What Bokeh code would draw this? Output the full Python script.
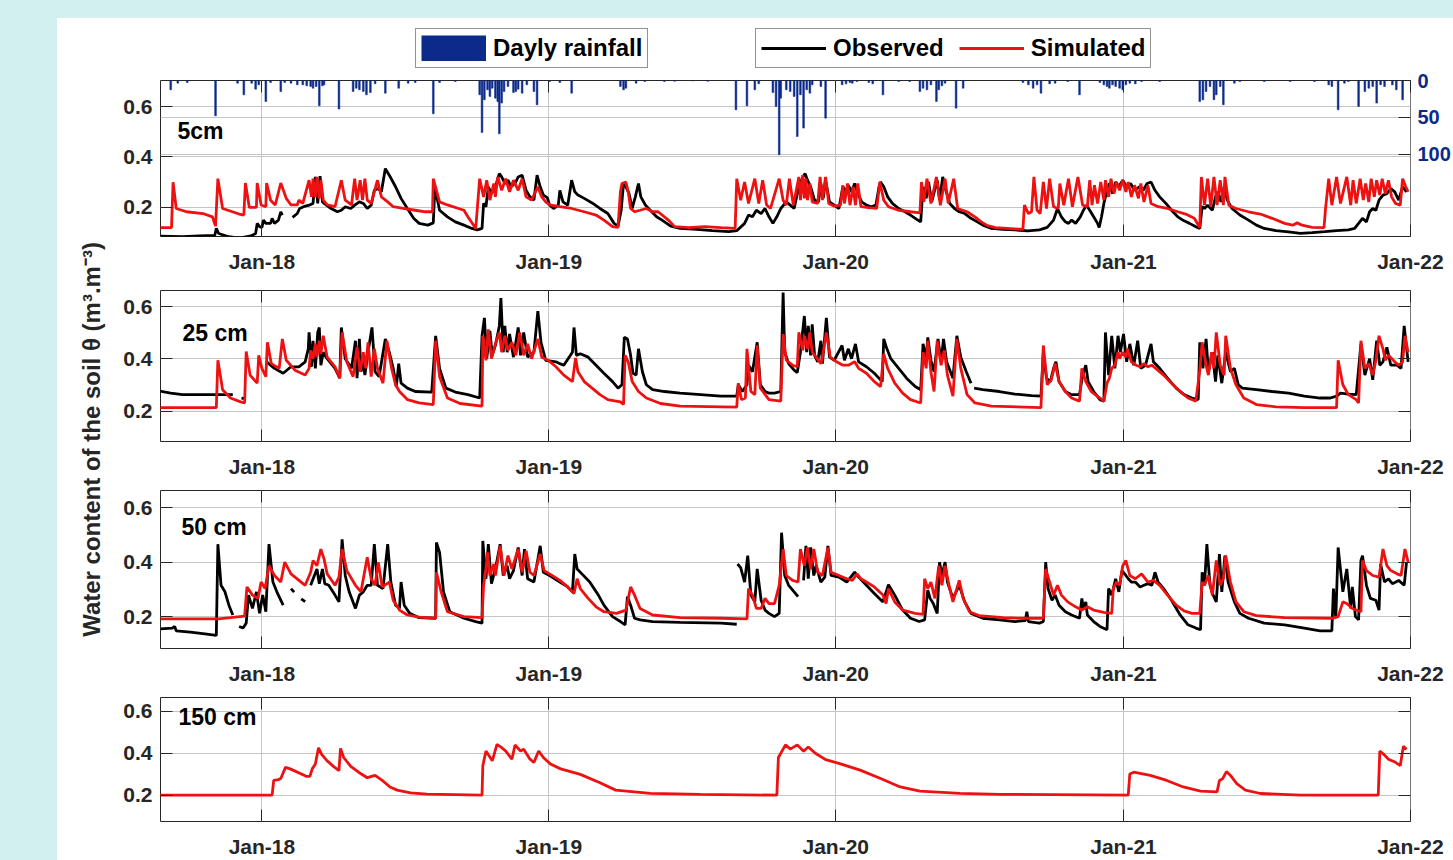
import math
import numpy as np
import pandas as pd
from bokeh.plotting import figure
from bokeh.models import (Range1d, LinearAxis, FixedTicker, DatetimeTickFormatter, Legend,
                          LegendItem, Label, Grid, Spacer, ColumnDataSource)
from bokeh.layouts import column, row
from bokeh.embed import file_html
from bokeh.resources import INLINE

nan = float("nan")

# ---------------- data (x = days since 2018-01-01) ----------------
base_date = "2018-01-01"
x_start, x_end = "2017-08-25", "2022-01-01 01:00"
year_ticks = ["2018-01-01", "2019-01-01", "2020-01-01", "2021-01-01", "2022-01-01"]
theta_ticks = [0.2, 0.4, 0.6]
rain_ticks = [0, 50, 100]
depth_labels = ["5cm", "25 cm", "50 cm", "150 cm"]
legend_labels = ["Dayly rainfall", "Observed", "Simulated"]
y_label = "Water content of the soil \u03b8 (m\u00b3.m\u207b\u00b3)"

rain_day = [-116, -107, -95, -59, -31, -23, -13, -8, -4, 5, 11, 24, 29, 37, 45, 52, 57, 62, 65, 69,
            73, 77, 79, 98, 116, 120, 124, 129, 133, 138, 144, 157, 174, 186, 195, 218, 226, 246, 277, 280,
            283, 287, 290, 293, 297, 300, 302, 305, 308, 313, 320, 323, 326, 331, 337, 346, 350, 366, 379, 394,
            456, 460, 463, 476, 487, 512, 525, 548, 567, 603, 617, 627, 632, 650, 654, 658, 660,
            667, 672, 677, 681, 685, 689, 693, 697, 700, 711, 717, 738, 743, 748, 751, 757, 772, 777, 790, 810,
            824, 837, 841, 846, 851, 858, 861, 865, 869, 883, 892, 968, 975, 981, 986, 991, 1002, 1009, 1025, 1040,
            1066, 1071, 1075, 1078, 1082, 1086, 1091, 1095, 1099, 1104, 1111, 1119, 1142, 1193, 1197, 1201, 1206,
            1211, 1214, 1219, 1223, 1237, 1244, 1275, 1308, 1339, 1357, 1361, 1369, 1377, 1382, 1395, 1403, 1408,
            1413, 1418, 1423, 1428, 1438, 1443, 1451]
rain_mm = [12.6, 3.6, 2.7, 47.8, 3.6, 19.4, 3.6, 11.7, 5.9, 28.4, 2.7, 14.9, 2.7, 3.6, 5.9, 5.9, 7.2, 8.1, 10.4, 8.1,
           34.2, 7.2, 5.9, 38.7, 14.9, 10.4, 12.6, 14.9, 19.4, 16.2, 4.5, 17.1, 10.4, 3.6, 2.7, 45.0, 2.7, 1.4, 19.4, 70.3,
           26.1, 12.6, 21.6, 10.4, 23.9, 28.4, 72.1, 30.6, 14.9, 8.1, 16.2, 14.9, 11.7, 17.1, 5.9, 14.9, 32.9, 1.4, 2.7, 17.1,
           8.1, 12.6, 10.4, 3.6, 1.4, 1.4, 1.0, 0.5, 1.0, 39.6, 34.2, 12.6, 4.5, 16.2, 35.1, 100.5, 23.9,
           12.6, 14.9, 21.6, 75.7, 19.4, 64.4, 12.6, 17.1, 5.9, 8.1, 50.9, 5.9, 4.5, 2.7, 3.6, 1.4, 2.7, 4.5, 19.4, 1.4,
           1.4, 14.9, 10.4, 12.6, 5.9, 28.4, 12.6, 7.2, 3.6, 37.4, 10.4, 2.7, 5.9, 10.4, 5.9, 17.1, 4.5, 3.6, 1.4, 19.4,
           2.7, 5.9, 8.1, 10.4, 5.9, 8.1, 10.4, 12.6, 5.9, 3.6, 4.5, 1.4, 1.4, 28.4, 26.1, 14.9, 8.1,
           26.1, 19.4, 8.1, 32.9, 3.6, 1.4, 1.4, 1.4, 1.4, 5.9, 8.1, 39.6, 3.6, 1.4, 35.1, 14.9, 10.4,
           8.1, 30.6, 5.9, 8.1, 5.9, 12.6, 26.1]

sim_5cm = [(-132, 0.12), (-115, 0.12), (-113, 0.30), (-109, 0.196), (-96, 0.183), (-75, 0.176), (-63, 0.163),
           (-59, 0.126), (-56, 0.314), (-50, 0.196), (-29, 0.174), (-23, 0.17), (-21, 0.297), (-16, 0.20), (-7, 0.20),
           (-6, 0.297), (-1, 0.21), (5, 0.203), (6, 0.297), (11, 0.229), (17, 0.21), (24, 0.297), (31, 0.236),
           (37, 0.21), (45, 0.21), (47, 0.229), (52, 0.216), (60, 0.308), (63, 0.242), (65, 0.314), (68, 0.242),
           (70, 0.321), (73, 0.236), (75, 0.308), (78, 0.229), (83, 0.21), (93, 0.203), (101, 0.308), (106, 0.229),
           (114, 0.21), (118, 0.314), (121, 0.229), (125, 0.308), (128, 0.229), (131, 0.314), (134, 0.229),
           (139, 0.216), (147, 0.308), (152, 0.242), (160, 0.222), (167, 0.203), (180, 0.196), (195, 0.189),
           (208, 0.183), (217, 0.183), (218, 0.314), (226, 0.222), (236, 0.21), (257, 0.189), (262, 0.163),
           (272, 0.117), (277, 0.314), (282, 0.242), (286, 0.308), (290, 0.229), (295, 0.295), (297, 0.242),
           (300, 0.321), (305, 0.268), (310, 0.314), (315, 0.262), (320, 0.308), (326, 0.268), (331, 0.314),
           (336, 0.242), (343, 0.229), (351, 0.282), (356, 0.242), (361, 0.222), (366, 0.21), (379, 0.203),
           (394, 0.196), (410, 0.183), (425, 0.17), (435, 0.15), (446, 0.124), (453, 0.121), (456, 0.262),
           (458, 0.295), (463, 0.301), (466, 0.262), (469, 0.196), (474, 0.183), (481, 0.189), (489, 0.196),
           (497, 0.183), (504, 0.183), (517, 0.15), (525, 0.124), (543, 0.12), (563, 0.124), (584, 0.12),
           (602, 0.117), (604, 0.314), (609, 0.229), (614, 0.301), (619, 0.216), (627, 0.314), (632, 0.216),
           (637, 0.308), (642, 0.21), (647, 0.196), (658, 0.314), (663, 0.229),
           (667, 0.209), (671, 0.314), (676, 0.209), (683, 0.321), (685, 0.229), (688, 0.328), (690, 0.236),
           (692, 0.314), (694, 0.229), (697, 0.295), (700, 0.222), (707, 0.216), (710, 0.321), (713, 0.229),
           (717, 0.321), (721, 0.216), (728, 0.205), (736, 0.209), (739, 0.288), (741, 0.216), (745, 0.295),
           (748, 0.209), (752, 0.282), (755, 0.209), (758, 0.295), (762, 0.203), (772, 0.199), (782, 0.196),
           (786, 0.301), (791, 0.229), (797, 0.203), (810, 0.189), (825, 0.183), (837, 0.179), (839, 0.301),
           (842, 0.222), (846, 0.314), (851, 0.216), (858, 0.321), (863, 0.209), (869, 0.314), (873, 0.216),
           (880, 0.314), (885, 0.196), (897, 0.183), (907, 0.163), (915, 0.143), (923, 0.128), (933, 0.12),
           (948, 0.117), (968, 0.113), (970, 0.209), (975, 0.176), (979, 0.183), (982, 0.321), (986, 0.189),
           (990, 0.176), (994, 0.301), (998, 0.196), (1002, 0.314), (1007, 0.203), (1013, 0.196), (1015, 0.295),
           (1020, 0.209), (1026, 0.314), (1031, 0.203), (1038, 0.321), (1044, 0.209), (1050, 0.203), (1053, 0.308),
           (1056, 0.209), (1059, 0.288), (1063, 0.216), (1067, 0.301), (1071, 0.229), (1073, 0.308), (1077, 0.242),
           (1080, 0.314), (1084, 0.255), (1087, 0.301), (1091, 0.268), (1095, 0.308), (1099, 0.262), (1102, 0.301),
           (1106, 0.242), (1110, 0.288), (1115, 0.236), (1118, 0.295), (1122, 0.222), (1127, 0.288), (1131, 0.216),
           (1140, 0.203), (1152, 0.196), (1165, 0.183), (1175, 0.174), (1186, 0.157), (1193, 0.121), (1195, 0.321),
           (1199, 0.209), (1203, 0.314), (1207, 0.203), (1211, 0.321), (1215, 0.209), (1219, 0.308), (1223, 0.209),
           (1225, 0.321), (1230, 0.209), (1239, 0.196), (1255, 0.183), (1270, 0.174), (1285, 0.157), (1301, 0.137),
           (1311, 0.13), (1317, 0.139), (1323, 0.13), (1336, 0.121), (1351, 0.12), (1353, 0.196), (1357, 0.314),
           (1361, 0.209), (1367, 0.321), (1372, 0.216), (1380, 0.321), (1385, 0.209), (1388, 0.308), (1392, 0.216),
           (1397, 0.314), (1401, 0.229), (1404, 0.295), (1408, 0.222), (1411, 0.314), (1415, 0.242), (1418, 0.308),
           (1422, 0.249), (1425, 0.314), (1429, 0.255), (1433, 0.308), (1437, 0.242), (1442, 0.216), (1448, 0.209),
           (1451, 0.314), (1455, 0.282), (1458, 0.262)]

obs_5cm = [(-132, 0.087), (-101, 0.084), (-80, 0.087), (-60, 0.089), (-58, 0.117), (-55, 0.097), (-42, 0.084),
           (-29, 0.079), (-14, 0.087), (-8, 0.097), (-6, 0.137), (-3, 0.124), (0, 0.121), (2, 0.15), (5, 0.137),
           (11, 0.137), (13, 0.157), (16, 0.137), (21, 0.15), (24, 0.183), (26, 0.17), (32, nan), (39, 0.161),
           (45, 0.176), (48, 0.196), (53, 0.203), (60, 0.209), (65, 0.216), (68, 0.321), (71, 0.216), (74, 0.324),
           (77, 0.222), (82, 0.209), (88, 0.196), (96, 0.183), (101, 0.189), (106, 0.203), (113, 0.196),
           (118, 0.209), (124, 0.222), (129, 0.216), (134, 0.196), (139, 0.209), (143, 0.268), (148, 0.275),
           (152, 0.262), (157, 0.354), (162, 0.328), (170, 0.282), (177, 0.236), (185, 0.196), (193, 0.157),
           (200, 0.137), (211, 0.13), (218, 0.139), (220, 0.28), (226, 0.189), (236, 0.163), (246, 0.143),
           (257, 0.13), (267, 0.117), (274, 0.111), (280, 0.117), (282, 0.216), (285, 0.203), (288, 0.282),
           (292, 0.255), (297, 0.282), (302, 0.334), (305, 0.321), (309, 0.295), (313, 0.308), (317, 0.282),
           (322, 0.295), (326, 0.321), (331, 0.328), (336, 0.268), (341, 0.242), (346, 0.229), (350, 0.328),
           (354, 0.282), (358, 0.249), (363, 0.239), (366, 0.209), (371, 0.196), (377, 0.209), (379, 0.268),
           (383, 0.222), (389, 0.209), (394, 0.308), (398, 0.262), (402, 0.249), (410, 0.236), (420, 0.218),
           (430, 0.196), (440, 0.176), (448, 0.137), (453, 0.126), (457, 0.189), (460, 0.295), (463, 0.282),
           (467, 0.255), (471, 0.196), (475, 0.242), (479, 0.295), (482, 0.242), (488, 0.209), (494, 0.189),
           (502, 0.163), (509, 0.15), (520, 0.126), (532, 0.117), (553, 0.113), (573, 0.108), (594, 0.104),
           (604, 0.108), (614, 0.137), (619, 0.17), (624, 0.163), (629, 0.189), (635, 0.176), (640, 0.196),
           (645, 0.163), (650, 0.137), (655, 0.163), (660, 0.196),
           (667, 0.222), (672, 0.209), (677, 0.196), (683, 0.282), (688, 0.321), (691, 0.334), (694, 0.308),
           (698, 0.282), (703, 0.229), (708, 0.222), (711, 0.295), (714, 0.236), (717, 0.308), (722, 0.222),
           (728, 0.209), (734, 0.196), (739, 0.282), (743, 0.262), (746, 0.288), (750, 0.262), (754, 0.295),
           (758, 0.255), (763, 0.222), (769, 0.209), (775, 0.203), (781, 0.209), (785, 0.282), (787, 0.301),
           (791, 0.282), (796, 0.242), (802, 0.216), (810, 0.196), (818, 0.183), (825, 0.17), (833, 0.153),
           (838, 0.143), (841, 0.282), (845, 0.236), (848, 0.301), (852, 0.222), (859, 0.308), (862, 0.229),
           (866, 0.321), (870, 0.268), (875, 0.216), (881, 0.196), (887, 0.183), (894, 0.176), (902, 0.157),
           (910, 0.143), (917, 0.13), (928, 0.117), (943, 0.113), (958, 0.111), (974, 0.107), (989, 0.111),
           (999, 0.121), (1007, 0.15), (1012, 0.196), (1017, 0.163), (1022, 0.143), (1026, 0.137), (1030, 0.15),
           (1035, 0.137), (1041, 0.163), (1045, 0.189), (1049, 0.209), (1053, 0.189), (1058, 0.163), (1063, 0.137),
           (1065, 0.121), (1068, 0.163), (1071, 0.216), (1075, 0.268), (1078, 0.295), (1082, 0.255), (1086, 0.301),
           (1090, 0.282), (1095, 0.308), (1100, 0.282), (1105, 0.295), (1110, 0.268), (1116, 0.282), (1121, 0.268),
           (1126, 0.295), (1131, 0.301), (1136, 0.268), (1142, 0.242), (1150, 0.216), (1157, 0.189), (1165, 0.163),
           (1173, 0.147), (1180, 0.137), (1188, 0.124), (1193, 0.117), (1196, 0.203), (1199, 0.196), (1203, 0.209),
           (1209, 0.189), (1213, 0.242), (1216, 0.262), (1220, 0.222), (1224, 0.282), (1228, 0.229), (1234, 0.196),
           (1244, 0.17), (1255, 0.15), (1265, 0.13), (1275, 0.117), (1290, 0.108), (1306, 0.103), (1321, 0.097),
           (1336, 0.1), (1352, 0.104), (1367, 0.108), (1382, 0.111), (1390, 0.117), (1395, 0.137), (1400, 0.157),
           (1405, 0.143), (1409, 0.183), (1413, 0.196), (1417, 0.189), (1421, 0.229), (1426, 0.249), (1431, 0.255),
           (1436, 0.275), (1441, 0.262), (1446, 0.229), (1451, 0.282), (1456, 0.262)]

sim_25cm = [(-132, 0.213), (-58, 0.213), (-56, 0.395), (-50, 0.282), (-40, 0.25), (-27, 0.235), (-22, 0.231),
            (-20, 0.429), (-15, 0.338), (-6, 0.307), (-4, 0.414), (0, 0.364), (5, 0.332), (7, 0.464), (12, 0.382),
            (22, 0.364), (26, 0.477), (31, 0.395), (42, 0.357), (55, 0.338), (60, 0.364), (62, 0.433), (65, 0.401),
            (68, 0.458), (70, 0.407), (73, 0.47), (75, 0.42), (78, 0.489), (83, 0.407), (93, 0.37), (99, 0.326),
            (102, 0.502), (108, 0.389), (116, 0.332), (121, 0.445), (125, 0.351), (129, 0.426), (132, 0.364),
            (135, 0.464), (139, 0.332), (143, 0.439), (147, 0.364), (154, 0.307), (159, 0.47), (165, 0.364),
            (170, 0.301), (175, 0.275), (185, 0.244), (200, 0.231), (218, 0.225), (221, 0.47), (226, 0.332),
            (236, 0.25), (252, 0.229), (280, 0.219), (281, 0.489), (285, 0.395), (288, 0.514), (292, 0.401),
            (297, 0.458), (302, 0.502), (305, 0.426), (309, 0.489), (313, 0.433), (318, 0.464), (323, 0.414),
            (328, 0.502), (333, 0.414), (338, 0.458), (343, 0.401), (351, 0.477), (356, 0.407), (364, 0.395),
            (374, 0.37), (384, 0.338), (395, 0.313), (399, 0.404), (402, 0.351), (410, 0.313), (420, 0.288),
            (430, 0.263), (440, 0.244), (456, 0.235), (460, 0.225), (462, 0.414), (466, 0.389), (471, 0.313),
            (479, 0.275), (489, 0.25), (507, 0.229), (532, 0.219), (604, 0.215), (606, 0.307), (610, 0.244),
            (615, 0.25), (617, 0.439), (622, 0.275), (627, 0.263), (630, 0.452), (634, 0.288), (645, 0.244),
            (660, 0.238), (663, 0.496),
            (667, 0.395), (675, 0.376), (681, 0.37), (683, 0.502), (688, 0.433), (690, 0.489), (694, 0.439),
            (697, 0.502), (700, 0.426), (705, 0.407), (711, 0.382), (713, 0.407), (718, 0.502), (723, 0.407),
            (731, 0.389), (739, 0.376), (746, 0.376), (754, 0.389), (759, 0.364), (769, 0.345), (779, 0.313),
            (787, 0.294), (791, 0.42), (796, 0.364), (805, 0.307), (815, 0.269), (825, 0.244), (838, 0.231),
            (841, 0.426), (845, 0.364), (847, 0.47), (851, 0.351), (855, 0.275), (859, 0.47), (864, 0.376),
            (868, 0.433), (872, 0.338), (879, 0.257), (884, 0.477), (889, 0.364), (897, 0.263), (907, 0.231),
            (928, 0.219), (991, 0.213), (994, 0.452), (999, 0.301), (1004, 0.32), (1009, 0.382), (1014, 0.313),
            (1022, 0.275), (1030, 0.25), (1040, 0.238), (1043, 0.364), (1048, 0.313), (1055, 0.275), (1066, 0.25),
            (1071, 0.238), (1075, 0.307), (1078, 0.326), (1081, 0.364), (1085, 0.376), (1089, 0.426), (1091, 0.401),
            (1095, 0.426), (1099, 0.407), (1101, 0.439), (1106, 0.389), (1112, 0.376), (1117, 0.37), (1122, 0.382),
            (1127, 0.37), (1132, 0.376), (1137, 0.364), (1147, 0.338), (1157, 0.307), (1168, 0.275), (1178, 0.25),
            (1188, 0.238), (1193, 0.357), (1196, 0.464), (1201, 0.376), (1204, 0.338), (1208, 0.426), (1211, 0.364),
            (1214, 0.502), (1219, 0.376), (1224, 0.338), (1226, 0.489), (1232, 0.364), (1239, 0.301), (1249, 0.25),
            (1265, 0.225), (1290, 0.216), (1326, 0.213), (1367, 0.213), (1369, 0.395), (1375, 0.301), (1382, 0.263),
            (1392, 0.244), (1395, 0.231), (1398, 0.47), (1403, 0.364), (1408, 0.382), (1413, 0.338), (1417, 0.395),
            (1421, 0.489), (1426, 0.439), (1429, 0.395), (1433, 0.414), (1441, 0.389), (1446, 0.376), (1451, 0.389),
            (1454, 0.489), (1458, 0.426)]

obs_25cm = [(-132, 0.278), (-116, 0.269), (-101, 0.263), (-80, 0.263), (-55, 0.263), (-37, 0.263), (-31, nan),
            (-26, 0.25), (-22, 0.248), (-8, nan), (6, 0.389), (16, 0.364), (27, 0.345), (37, 0.37), (47, 0.37),
            (55, 0.389), (59, 0.439), (60, 0.502), (63, 0.37), (65, 0.47), (68, 0.364), (71, 0.502), (73, 0.521),
            (75, 0.376), (78, 0.426), (83, 0.401), (93, 0.364), (99, 0.326), (101, 0.521), (106, 0.401),
            (114, 0.364), (119, 0.47), (121, 0.326), (124, 0.477), (126, 0.351), (129, 0.389), (131, 0.338),
            (135, 0.426), (140, 0.521), (144, 0.351), (149, 0.332), (157, 0.477), (162, 0.426), (167, 0.364),
            (171, 0.294), (174, 0.382), (177, 0.307), (185, 0.288), (195, 0.275), (216, 0.273), (221, 0.489),
            (226, 0.364), (234, 0.288), (246, 0.273), (262, 0.263), (277, 0.25), (280, 0.489), (283, 0.558),
            (286, 0.401), (290, 0.508), (293, 0.414), (297, 0.452), (302, 0.527), (304, 0.634), (307, 0.426),
            (309, 0.527), (312, 0.426), (315, 0.496), (320, 0.407), (326, 0.521), (329, 0.414), (333, 0.502),
            (338, 0.407), (346, 0.426), (351, 0.584), (355, 0.464), (361, 0.395), (374, 0.389), (379, 0.382),
            (384, 0.376), (395, 0.426), (397, 0.521), (400, 0.414), (405, 0.42), (415, 0.407), (425, 0.376),
            (435, 0.345), (446, 0.313), (453, 0.288), (458, 0.301), (461, 0.483), (465, 0.477), (469, 0.414),
            (472, 0.345), (476, 0.338), (479, 0.439), (484, 0.351), (489, 0.301), (497, 0.282), (512, 0.275),
            (532, 0.269), (558, 0.263), (584, 0.257), (604, 0.257), (606, 0.301), (611, 0.275), (617, 0.301),
            (619, 0.376), (624, 0.351), (630, 0.464), (634, 0.301), (640, 0.275), (645, 0.269), (652, 0.269),
            (660, 0.275), (663, 0.655), (665, 0.426),
            (670, 0.382), (677, 0.357), (681, 0.348), (685, 0.426), (690, 0.565), (693, 0.426), (695, 0.527),
            (698, 0.414), (700, 0.533), (703, 0.414), (707, 0.389), (711, 0.47), (713, 0.382), (718, 0.558),
            (722, 0.407), (728, 0.395), (738, 0.452), (741, 0.395), (746, 0.439), (750, 0.401), (755, 0.458),
            (759, 0.389), (769, 0.37), (779, 0.345), (789, 0.313), (791, 0.477), (795, 0.439), (800, 0.401),
            (810, 0.364), (820, 0.326), (831, 0.294), (838, 0.282), (841, 0.458), (845, 0.401), (847, 0.483),
            (851, 0.395), (855, 0.351), (860, 0.477), (864, 0.389), (867, 0.477), (871, 0.389), (879, 0.326),
            (884, 0.489), (889, 0.407), (896, 0.351), (902, 0.307), (904, nan), (906, 0.288), (917, 0.282),
            (938, 0.275), (958, 0.265), (979, 0.259), (991, 0.257), (994, 0.426), (998, 0.326), (1003, 0.313),
            (1007, 0.364), (1010, 0.389), (1014, 0.313), (1022, 0.275), (1030, 0.263), (1040, 0.263), (1044, 0.338),
            (1048, 0.376), (1051, 0.313), (1058, 0.275), (1066, 0.244), (1071, 0.238), (1073, 0.502), (1077, 0.338),
            (1081, 0.489), (1085, 0.364), (1089, 0.489), (1092, 0.426), (1096, 0.496), (1100, 0.389), (1104, 0.458),
            (1109, 0.376), (1114, 0.47), (1118, 0.364), (1124, 0.376), (1131, 0.458), (1134, 0.389), (1142, 0.364),
            (1152, 0.326), (1163, 0.288), (1173, 0.263), (1183, 0.25), (1191, 0.244), (1193, 0.464), (1197, 0.364),
            (1201, 0.477), (1204, 0.351), (1209, 0.426), (1213, 0.313), (1216, 0.414), (1221, 0.307), (1226, 0.426),
            (1232, 0.351), (1237, 0.364), (1242, 0.301), (1247, 0.288), (1265, 0.282), (1285, 0.275), (1306, 0.269),
            (1326, 0.257), (1346, 0.25), (1359, 0.25), (1367, 0.257), (1372, 0.269), (1382, 0.265), (1392, 0.263),
            (1398, 0.458), (1403, 0.338), (1409, 0.401), (1413, 0.32), (1418, 0.47), (1422, 0.376), (1426, 0.389),
            (1431, 0.445), (1436, 0.376), (1444, 0.376), (1449, 0.364), (1453, 0.527), (1458, 0.389)]

sim_50cm = [(-132, 0.192), (-55, 0.192), (-40, 0.196), (-22, 0.202), (-19, 0.309), (-12, 0.279), (-5, 0.267),
            (-1, 0.327), (4, 0.303), (9, 0.387), (16, 0.351), (24, 0.327), (29, 0.4), (37, 0.357), (55, 0.315),
            (62, 0.363), (65, 0.406), (70, 0.387), (75, 0.448), (79, 0.412), (83, 0.357), (93, 0.315), (98, 0.345),
            (102, 0.448), (108, 0.369), (119, 0.315), (126, 0.291), (134, 0.418), (139, 0.339), (144, 0.315),
            (148, 0.4), (153, 0.309), (162, 0.327), (167, 0.26), (175, 0.224), (185, 0.206), (200, 0.198),
            (221, 0.194), (222, 0.363), (228, 0.291), (236, 0.218), (257, 0.2), (280, 0.196), (282, 0.315),
            (285, 0.375), (287, 0.436), (290, 0.351), (295, 0.393), (297, 0.351), (303, 0.46), (308, 0.351),
            (313, 0.424), (318, 0.375), (326, 0.448), (331, 0.363), (336, 0.442), (341, 0.363), (346, 0.351),
            (354, 0.43), (359, 0.369), (366, 0.357), (379, 0.333), (389, 0.309), (397, 0.285), (401, 0.339),
            (405, 0.303), (415, 0.267), (425, 0.236), (435, 0.218), (451, 0.212), (463, 0.224), (469, 0.309),
            (474, 0.279), (481, 0.23), (497, 0.206), (532, 0.196), (584, 0.194), (617, 0.192), (619, 0.303),
            (624, 0.279), (629, 0.23), (635, 0.23), (640, 0.267), (645, 0.248), (652, 0.248), (658, 0.315),
            (663, 0.448),
            (667, 0.351), (675, 0.333), (682, 0.327), (685, 0.448), (690, 0.387), (694, 0.454), (698, 0.375),
            (702, 0.448), (707, 0.363), (713, 0.351), (720, 0.454), (724, 0.363), (734, 0.351), (744, 0.339),
            (751, 0.333), (757, 0.357), (762, 0.339), (769, 0.327), (779, 0.309), (790, 0.279), (794, 0.248),
            (797, 0.303), (805, 0.254), (815, 0.224), (831, 0.212), (841, 0.208), (843, 0.339), (847, 0.303),
            (851, 0.327), (856, 0.267), (861, 0.387), (865, 0.315), (869, 0.387), (874, 0.315), (879, 0.254),
            (887, 0.333), (892, 0.267), (900, 0.218), (912, 0.204), (943, 0.196), (968, 0.194), (994, 0.194),
            (997, 0.375), (1002, 0.327), (1007, 0.279), (1012, 0.315), (1017, 0.279), (1025, 0.254), (1035, 0.236),
            (1043, 0.224), (1050, 0.236), (1058, 0.224), (1071, 0.216), (1081, 0.212), (1083, 0.303), (1087, 0.327),
            (1091, 0.315), (1095, 0.387), (1099, 0.406), (1104, 0.351), (1111, 0.339), (1119, 0.357), (1127, 0.327),
            (1134, 0.333), (1142, 0.315), (1152, 0.279), (1163, 0.242), (1173, 0.221), (1183, 0.212), (1193, 0.212),
            (1196, 0.327), (1199, 0.315), (1204, 0.351), (1209, 0.279), (1214, 0.406), (1219, 0.315), (1223, 0.339),
            (1226, 0.424), (1232, 0.327), (1239, 0.254), (1249, 0.218), (1265, 0.204), (1301, 0.196), (1362, 0.194),
            (1369, 0.2), (1375, 0.254), (1380, 0.248), (1387, 0.23), (1398, 0.218), (1400, 0.406), (1405, 0.369),
            (1413, 0.351), (1421, 0.345), (1426, 0.448), (1431, 0.387), (1436, 0.369), (1444, 0.357), (1449, 0.351),
            (1454, 0.448), (1458, 0.4)]

obs_50cm = [(-129, 0.155), (-114, 0.158), (-111, 0.164), (-109, 0.148), (-91, 0.143), (-70, 0.136), (-58, 0.131),
            (-56, 0.466), (-52, 0.315), (-47, 0.291), (-42, 0.242), (-37, 0.206), (-33, nan), (-29, 0.164),
            (-24, 0.158), (-20, 0.176), (-17, 0.279), (-12, 0.23), (-7, 0.291), (-3, 0.212), (1, 0.279), (5, 0.218),
            (9, 0.466), (14, 0.327), (19, 0.291), (27, 0.242), (32, nan), (37, 0.303), (41, 0.29), (45, nan),
            (50, 0.265), (55, 0.255), (58, nan), (62, 0.315), (70, 0.375), (73, 0.321), (77, 0.375), (80, 0.321),
            (85, 0.315), (93, 0.279), (98, 0.254), (102, 0.484), (106, 0.351), (111, 0.291), (119, 0.23),
            (124, 0.279), (129, 0.291), (134, 0.315), (139, 0.315), (143, 0.466), (147, 0.315), (154, 0.303),
            (160, 0.466), (164, 0.327), (170, 0.242), (175, 0.23), (177, 0.327), (181, 0.242), (188, 0.212),
            (200, 0.196), (221, 0.194), (222, 0.472), (226, 0.436), (231, 0.291), (239, 0.218), (257, 0.194),
            (272, 0.182), (280, 0.176), (281, 0.478), (285, 0.339), (288, 0.466), (292, 0.321), (297, 0.375),
            (303, 0.466), (307, 0.351), (312, 0.387), (315, 0.339), (320, 0.369), (326, 0.454), (331, 0.351),
            (334, 0.448), (338, 0.339), (346, 0.327), (354, 0.46), (358, 0.363), (366, 0.351), (379, 0.327),
            (389, 0.309), (395, 0.291), (398, 0.43), (401, 0.375), (407, 0.357), (417, 0.327), (428, 0.279),
            (435, 0.242), (446, 0.2), (456, 0.182), (462, 0.17), (465, 0.273), (469, 0.242), (474, 0.194),
            (481, 0.188), (497, 0.182), (532, 0.179), (584, 0.176), (604, 0.172), (604.5, nan), (605, 0.393),
            (609, 0.38), (614, 0.327), (618, 0.424), (622, 0.279), (627, 0.254), (630, 0.375), (635, 0.26),
            (640, 0.224), (645, 0.212), (652, 0.2), (658, 0.212), (661, 0.508), (665, 0.351),
            (670, 0.315), (677, 0.291), (682, 0.273), (685, nan), (689, 0.333), (692, 0.46), (695, 0.339),
            (698, 0.454), (702, 0.351), (705, 0.387), (711, 0.327), (716, 0.345), (720, 0.46), (724, 0.351),
            (734, 0.345), (744, 0.327), (754, 0.363), (759, 0.345), (769, 0.315), (779, 0.285), (790, 0.254),
            (797, 0.317), (805, 0.279), (815, 0.224), (825, 0.194), (836, 0.182), (843, 0.188), (847, 0.297),
            (850, 0.267), (854, 0.248), (859, 0.212), (862, 0.4), (865, 0.351), (869, 0.4), (872, 0.327),
            (879, 0.267), (887, 0.315), (894, 0.254), (902, 0.212), (917, 0.194), (938, 0.188), (958, 0.182),
            (971, 0.185), (973, 0.218), (975, 0.182), (989, 0.176), (994, 0.182), (997, 0.4), (1000, 0.303),
            (1005, 0.26), (1009, 0.279), (1014, 0.242), (1022, 0.218), (1030, 0.206), (1040, 0.194), (1043, 0.267),
            (1045, 0.23), (1048, 0.254), (1050, 0.206), (1058, 0.182), (1066, 0.164), (1075, 0.152), (1077, 0.303),
            (1081, 0.279), (1086, 0.339), (1090, 0.291), (1094, 0.369), (1099, 0.351), (1102, 0.339), (1106, 0.327),
            (1111, 0.327), (1117, 0.309), (1122, 0.315), (1127, 0.321), (1132, 0.315), (1136, 0.363), (1140, 0.327),
            (1147, 0.303), (1157, 0.26), (1168, 0.206), (1178, 0.17), (1188, 0.158), (1194, 0.152), (1196, 0.363),
            (1199, 0.315), (1202, 0.466), (1206, 0.315), (1210, 0.279), (1214, 0.254), (1218, 0.43), (1221, 0.291),
            (1225, 0.424), (1229, 0.327), (1237, 0.254), (1244, 0.212), (1255, 0.194), (1275, 0.176), (1301, 0.17),
            (1326, 0.158), (1346, 0.148), (1361, 0.148), (1363, 0.303), (1366, 0.194), (1369, 0.454), (1375, 0.291),
            (1380, 0.375), (1385, 0.23), (1387, 0.309), (1391, 0.2), (1395, 0.188), (1398, 0.406), (1400, 0.424),
            (1405, 0.315), (1410, 0.267), (1417, 0.26), (1421, 0.224), (1423, 0.393), (1428, 0.327), (1433, 0.339),
            (1438, 0.321), (1446, 0.333), (1453, 0.315), (1456, 0.4)]

sim_150cm = [(-132, 0.201), (13, 0.201), (15, 0.271), (21, 0.275), (24, 0.28), (30, 0.333), (36, 0.326),
             (57, 0.29), (61, 0.29), (64, 0.326), (68, 0.349), (72, 0.426), (76, 0.395), (83, 0.364), (91, 0.338),
             (98, 0.318), (100, 0.423), (104, 0.38), (113, 0.338), (123, 0.31), (134, 0.284), (144, 0.295),
             (153, 0.271), (163, 0.24), (172, 0.225), (189, 0.212), (210, 0.206), (280, 0.201), (281, 0.341),
             (285, 0.411), (293, 0.364), (299, 0.442), (305, 0.427), (310, 0.411), (318, 0.372), (322, 0.439),
             (329, 0.411), (333, 0.419), (341, 0.372), (346, 0.357), (352, 0.411), (358, 0.38), (367, 0.349),
             (380, 0.326), (405, 0.30), (430, 0.26), (450, 0.225), (494, 0.21), (558, 0.205), (655, 0.201),
             (657, 0.38), (666, 0.44), (672, 0.42), (681, 0.44), (689, 0.41), (695, 0.43), (704, 0.40),
             (717, 0.37), (736, 0.35), (761, 0.32), (787, 0.28), (812, 0.24), (837, 0.22), (888, 0.21),
             (939, 0.205), (1102, 0.201), (1104, 0.302), (1109, 0.31), (1130, 0.295), (1151, 0.271), (1172, 0.24),
             (1194, 0.22), (1215, 0.217), (1218, 0.271), (1222, 0.279), (1227, 0.313), (1232, 0.295), (1240, 0.256),
             (1251, 0.225), (1270, 0.209), (1321, 0.201), (1420, 0.201), (1422, 0.411), (1427, 0.395), (1433, 0.372),
             (1442, 0.357), (1448, 0.341), (1452, 0.434), (1456, 0.419)]

# ---------------- styling ----------------
CYAN = "#d3f0f1"
AXC = "#262626"
GRID = "#c6c6c6"
FONT = "Liberation Sans"
RED = "#ee1111"
BLACK = "#000000"
NAVY = "#0b2a8a"
LW = 2.8

base = pd.Timestamp(base_date)


def to_source(pairs):
    d = np.array([p[0] for p in pairs], dtype=float)
    v = np.array([p[1] for p in pairs], dtype=float)
    x = (base + pd.to_timedelta(d, unit="D")).values
    return ColumnDataSource(dict(x=x, y=v))


year_ms = [pd.Timestamp(t).value / 1e6 for t in year_ticks]
xr = Range1d(start=pd.Timestamp(x_start), end=pd.Timestamp(x_end))


def style_axis(ax, labels=True, color=AXC, standoff=8, size="21px"):
    ax.axis_line_color = None
    ax.major_tick_in = 12
    ax.major_tick_out = 0
    ax.major_tick_line_color = AXC
    ax.major_tick_line_width = 1
    ax.minor_tick_line_color = None
    ax.major_label_text_font = FONT
    ax.major_label_text_font_style = "bold"
    if labels:
        ax.major_label_text_font_size = size
        ax.major_label_text_color = color
        ax.major_label_standoff = standoff
    else:
        ax.major_label_text_font_size = "1px"
        ax.major_label_text_color = None
        ax.major_label_standoff = 0


def make_panel(h, top, bottom, ylo, yhi, xstandoff, mirror_right=True):
    p = figure(width=1343, height=h, x_axis_type="datetime", x_range=xr, y_range=Range1d(ylo, yhi),
               toolbar_location=None, output_backend="svg",
               min_border_left=50, min_border_right=43, min_border_top=top, min_border_bottom=bottom,
               outline_line_color=AXC, outline_line_width=1, border_fill_color="white",
               background_fill_color="white")
    p.xaxis.ticker = FixedTicker(ticks=year_ms)
    p.xaxis.formatter = DatetimeTickFormatter(years="%b-%y", months="%b-%y", days="%b-%y",
                                              hours="%b-%y", minutes="%b-%y")
    p.yaxis.ticker = FixedTicker(ticks=theta_ticks)
    style_axis(p.xaxis[0], standoff=xstandoff)
    style_axis(p.yaxis[0], standoff=8)
    p.xgrid.ticker = FixedTicker(ticks=year_ms)
    p.ygrid.ticker = FixedTicker(ticks=theta_ticks)
    p.xgrid.grid_line_color = GRID
    p.ygrid.grid_line_color = GRID
    top_ax = LinearAxis(ticker=FixedTicker(ticks=year_ms))
    style_axis(top_ax, labels=False)
    p.add_layout(top_ax, "above")
    if mirror_right:
        r_ax = LinearAxis(ticker=FixedTicker(ticks=theta_ticks))
        style_axis(r_ax, labels=False)
        p.add_layout(r_ax, "right")
    return p


def depth_label(p, text, x, y):
    p.add_layout(Label(x=x, y=y, x_units="screen", y_units="screen", text=text,
                       text_font=FONT, text_font_style="bold", text_font_size="23px",
                       text_color=BLACK, text_baseline="middle", text_align="left"))


# ---- legend strip (above panel 1) ----
legfig = figure(width=1343, height=50, toolbar_location=None, output_backend="svg",
                min_border_left=50, min_border_right=43, min_border_top=0, min_border_bottom=0,
                x_range=Range1d(0, 1), y_range=Range1d(0, 1), x_axis_location=None, y_axis_location=None,
                outline_line_color=None, border_fill_color="white", background_fill_color="white")
legfig.grid.visible = False
# legend-key glyphs only (single point outside the strip's visible range);
# the rainfall key is a 26 px thick butt-capped stroke, i.e. a filled 65x26 swatch
lg_bar = legfig.line(x=[5], y=[5], line_color=NAVY, line_width=26, line_cap="butt")
lg_obs = legfig.line(x=[5], y=[5], line_color=BLACK, line_width=LW)
lg_sim = legfig.line(x=[5], y=[5], line_color=RED, line_width=LW)
common_leg = dict(orientation="horizontal", background_fill_color="white", background_fill_alpha=1.0,
                  border_line_color=AXC, border_line_width=1, label_text_font=FONT,
                  label_text_font_style="bold", label_text_font_size="24px", label_text_color=BLACK,
                  glyph_width=65, glyph_height=26, padding=5, margin=0)
leg1 = Legend(items=[LegendItem(label=legend_labels[0], renderers=[lg_bar])], location=(255, 0),
              spacing=0, label_standoff=7, **common_leg)
leg2 = Legend(items=[LegendItem(label=legend_labels[1], renderers=[lg_obs]),
                     LegendItem(label=legend_labels[2], renderers=[lg_sim])], location=(595, 0),
              spacing=15, label_standoff=7, **common_leg)
legfig.add_layout(leg1, "center")
legfig.add_layout(leg2, "center")

# ---- panel 1: 5 cm + rainfall ----
p1 = make_panel(212, 12, 44, 0.085, 0.703, 13, mirror_right=False)
p1.extra_y_ranges = {"rain": Range1d(start=211, end=0)}
rain_ax = LinearAxis(y_range_name="rain", ticker=FixedTicker(ticks=rain_ticks))
style_axis(rain_ax, color=NAVY, standoff=7, size="20px")
p1.add_layout(rain_ax, "right")
rain_grid = Grid(dimension=1, ticker=FixedTicker(ticks=rain_ticks), y_range_name="rain",
                 grid_line_color=GRID)
p1.add_layout(rain_grid, "center")

rain_x = (base + pd.to_timedelta(np.array(rain_day, dtype=float), unit="D")).values
rain_src = ColumnDataSource(dict(x=rain_x, top=rain_mm))
p1.vbar(x="x", top="top", bottom=0, width=2.2 * 86400000, source=rain_src,
        y_range_name="rain", fill_color=NAVY, line_color=NAVY, line_width=0.5)
p1.line("x", "y", source=to_source(obs_5cm), line_color=BLACK, line_width=LW)
p1.line("x", "y", source=to_source(sim_5cm), line_color=RED, line_width=LW)
depth_label(p1, depth_labels[0], 17, 106)

# ---- panel 2: 25 cm ----
p2 = make_panel(200, 10, 36, 0.083, 0.663, 13)
p2.line("x", "y", source=to_source(obs_25cm), line_color=BLACK, line_width=LW)
p2.line("x", "y", source=to_source(sim_25cm), line_color=RED, line_width=LW)
depth_label(p2, depth_labels[1], 22, 109)

# ---- panel 3: 50 cm ----
p3 = make_panel(207, 10, 37, 0.083, 0.663, 13)
p3.line("x", "y", source=to_source(obs_50cm), line_color=BLACK, line_width=LW)
p3.line("x", "y", source=to_source(sim_50cm), line_color=RED, line_width=LW)
depth_label(p3, depth_labels[2], 21, 122)

# ---- panel 4: 150 cm ----
p4 = make_panel(173, 10, 36, 0.076, 0.665, 13)
p4.line("x", "y", source=to_source(sim_150cm), line_color=RED, line_width=LW)
depth_label(p4, depth_labels[3], 18, 105)

# ---- y label column ----
lab = figure(width=53, height=842, toolbar_location=None, output_backend="svg", min_border=0,
             x_range=Range1d(0, 1), y_range=Range1d(0, 1), x_axis_location=None, y_axis_location=None,
             outline_line_color=None, border_fill_color="white", background_fill_color="white")
lab.grid.visible = False
lab.add_layout(Label(x=34, y=421, x_units="screen", y_units="screen", text=y_label, angle=math.pi / 2,
                     text_font=FONT, text_font_style="bold", text_font_size="24px", text_color=AXC,
                     text_align="center", text_baseline="middle"))

top_sp = Spacer(width=1453, height=18, styles={"background-color": CYAN})
left_sp = Spacer(width=57, height=842, styles={"background-color": CYAN})

layout = column(top_sp,
                row(left_sp, lab, column(legfig, p1, p2, p3, p4, spacing=0), spacing=0),
                spacing=0)

open("out.html", "w").write(file_html(layout, INLINE, title="Soil water content"))
